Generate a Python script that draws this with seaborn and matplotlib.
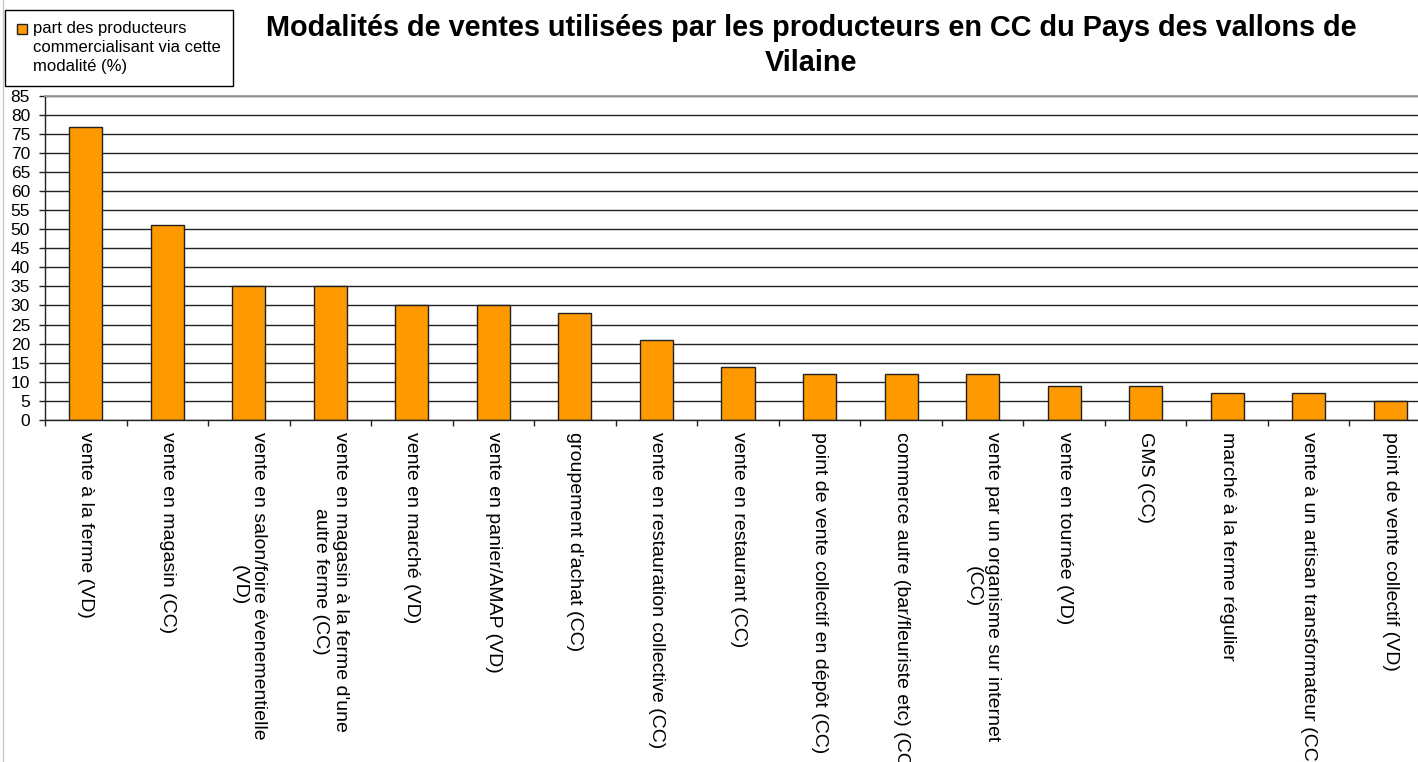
import numpy as np
import pandas as pd
import matplotlib
matplotlib.use("Agg")
import matplotlib.pyplot as plt
from matplotlib.patches import Rectangle, Patch
from matplotlib.legend_handler import HandlerPatch
from matplotlib.lines import Line2D
import seaborn as sns

# DATA
categories = [
    "vente à la ferme (VD)",
    "vente en magasin (CC)",
    "vente en salon/foire évenementielle\n(VD)",
    "vente en magasin à la ferme d'une\nautre ferme (CC)",
    "vente en marché (VD)",
    "vente en panier/AMAP (VD)",
    "groupement d'achat (CC)",
    "vente en restauration collective (CC)",
    "vente en restaurant (CC)",
    "point de vente collectif en dépôt (CC)",
    "commerce autre (bar/fleuriste etc) (CC)",
    "vente par un organisme sur internet\n(CC)",
    "vente en tournée (VD)",
    "GMS (CC)",
    "marché à la ferme régulier",
    "vente à un artisan transformateur (CC)",
    "point de vente collectif (VD)",
]
values = [76.8, 51.1, 35.0, 35.0, 30.2, 30.2, 27.9, 20.9, 13.9,
          12.1, 12.1, 12.1, 8.9, 8.9, 7.2, 7.2, 5.0]
series_label = "part des producteurs\ncommercialisant via cette\nmodalité (%)"
title = ("Modalités de ventes utilisées par les producteurs en CC du Pays des vallons de\n"
         "Vilaine")
yticks = list(range(0, 90, 5))

df = pd.DataFrame({"modalite": categories, "part": values})

sns.set_style("white")
plt.rcParams["font.family"] = ["Liberation Sans", "DejaVu Sans"]
plt.rcParams["text.color"] = "black"
plt.rcParams["xtick.color"] = "black"
plt.rcParams["ytick.color"] = "black"

W, H = 1418, 762
fig = plt.figure(figsize=(W / 100, H / 100), dpi=100)
# axes run past the right edge, like the cropped screenshot
ax = fig.add_axes([45 / W, 1 - 420 / H, (1431 - 45) / W, (420 - 95.5) / H])

bar_color = "#FF9900"
sns.barplot(data=df, x="modalite", y="part", color=bar_color, saturation=1,
            edgecolor="#222222", linewidth=1.0, width=0.405, ax=ax)

ax.set_ylim(0, 85)
ax.set_xlim(-0.5, len(categories) - 0.5)
ax.set_yticks(yticks)
ax.set_xlabel("")
ax.set_ylabel("")

# grid
ax.set_axisbelow(True)
ax.yaxis.grid(True, color="#222222", linewidth=1.0)
ax.xaxis.grid(False)

# spines
ax.spines["right"].set_visible(False)
ax.spines["top"].set_color("#9a9a9a")
ax.spines["top"].set_linewidth(1.3)
for side in ["left", "bottom"]:
    ax.spines[side].set_color("#222222")
    ax.spines[side].set_linewidth(1.0)

# ticks
ax.tick_params(axis="y", which="major", direction="out", length=4.3, width=1.0,
               color="#222222", labelcolor="black", pad=6.5, labelsize=12.5,
               left=True)
ax.set_xticks(np.arange(-0.5, len(categories), 1.0), minor=True)
ax.tick_params(axis="x", which="minor", direction="out", length=4.3, width=1.0,
               color="#222222", bottom=True)
ax.tick_params(axis="x", which="major", length=0, pad=8.5, labelsize=14,
               labelcolor="black")
for lab in ax.get_xticklabels():
    lab.set_rotation(270)
    lab.set_ha("center")
    lab.set_va("top")
    lab.set_multialignment("center")


# legend: small square, moved up to the first line of the label after layout
def small_square(legend, orig_handle, xdescent, ydescent, width, height, fontsize):
    s = 0.6 * fontsize
    return Rectangle((-xdescent, 0), s, s)


handle = Patch(facecolor=bar_color, edgecolor="#222222", linewidth=1.0)
leg = fig.legend([handle], [series_label], loc="upper left",
                 bbox_to_anchor=(5 / W, 1 - 9.5 / H), borderaxespad=0,
                 fontsize=12, frameon=True, fancybox=False, framealpha=1,
                 edgecolor="black", handlelength=0.6, handletextpad=0.36,
                 borderpad=0.72,
                 handler_map={Patch: HandlerPatch(patch_func=small_square)})
leg.get_frame().set_linewidth(1.0)
leg_text = leg.get_texts()[0]
leg_text.set_linespacing(1.32)
leg_text.set_color("black")

# title
fig.text(811 / W, 1 - 45.5 / H, title, ha="center", va="center", color="black",
         fontsize=20.8, fontweight="bold", linespacing=1.28)

# thin window border at the far left of the screenshot
fig.add_artist(Line2D([3 / W, 3 / W], [0, 1], color="#c8c8c0", linewidth=1.0,
                      transform=fig.transFigure))

# align the legend square with the first text line
fig.canvas.draw()
sq = leg.legend_handles[0]
tb = leg_text.get_window_extent()
sb = sq.get_window_extent()
shift_px = (tb.y1 - 2) - sb.y1
sq.set_y(sq.get_y() + shift_px * 72 / fig.dpi)

fig.savefig("out.png", dpi=100, facecolor="white")
